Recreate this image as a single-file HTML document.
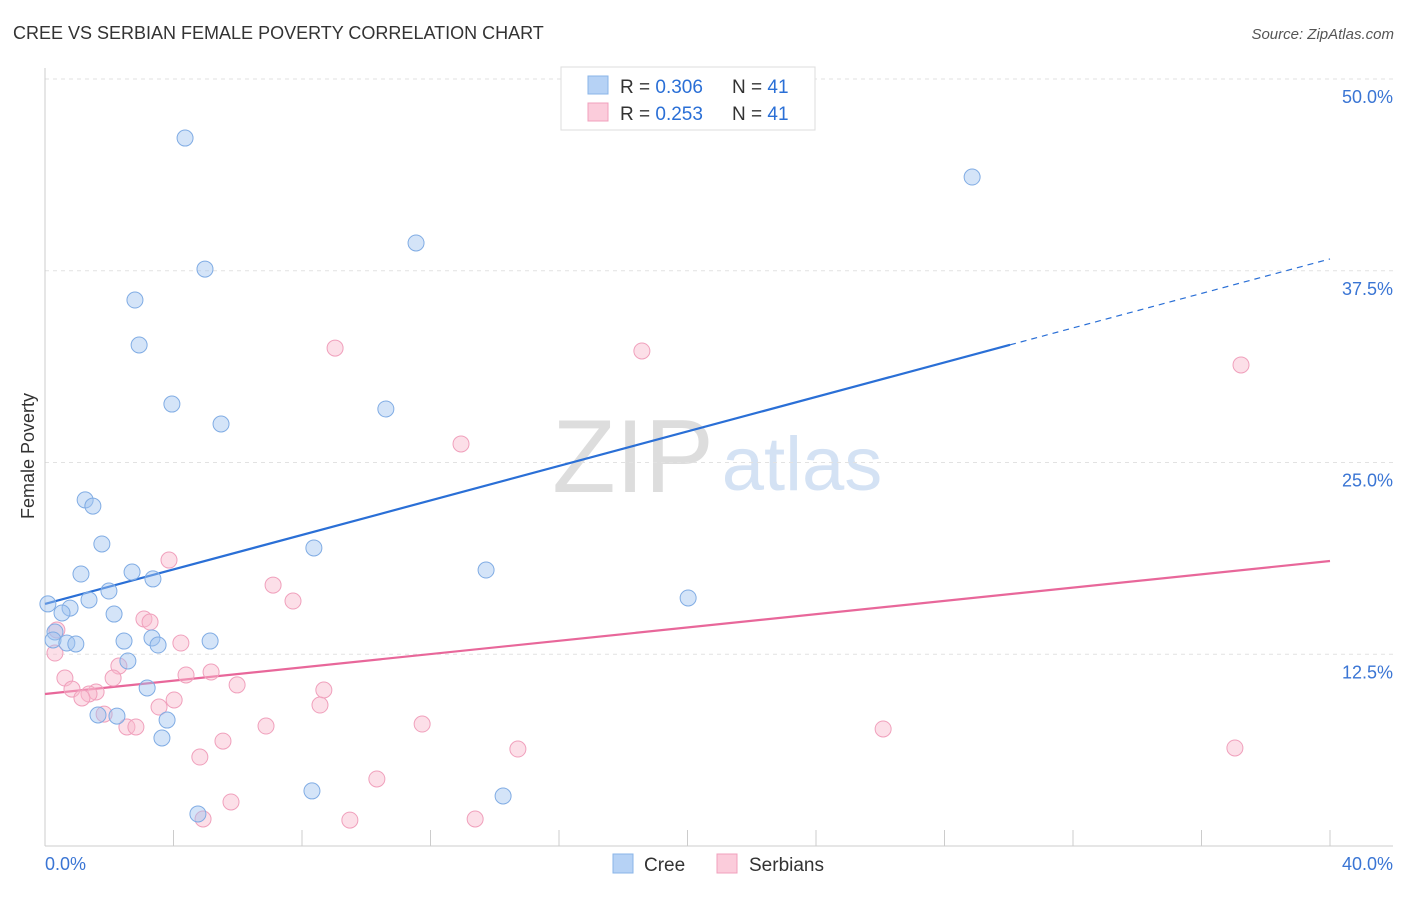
<!DOCTYPE html>
<html><head><meta charset="utf-8"><style>
body{margin:0;background:#fff;font-family:"Liberation Sans",sans-serif;}
svg text{font-family:"Liberation Sans",sans-serif;}
</style></head><body>
<svg id="c" width="1406" height="892">
<text x="13" y="39" font-size="18" fill="#333">CREE VS SERBIAN FEMALE POVERTY CORRELATION CHART</text>
<text x="1394" y="39" font-size="15" fill="#555" font-style="italic" text-anchor="end">Source: ZipAtlas.com</text>
<g>
<text x="633" y="492" font-size="104" fill="#ddd" font-family="Liberation Serif,serif" text-anchor="middle">ZIP</text>
<text x="802" y="490" font-size="76" fill="#d4e2f4" text-anchor="middle">atlas</text></g>
<g id="grid"></g><g id="axes"></g><g id="lines"></g><g id="pts"></g>
<text transform="translate(34,456) rotate(-90)" font-size="18" fill="#333" text-anchor="middle">Female Poverty</text>
<g>
<rect x="561" y="67" width="254" height="63" fill="#fff" stroke="#ddd"/>
<rect x="588" y="76" width="20" height="18" fill="#b6d2f5" stroke="#8ab4e8"/>
<rect x="588" y="103" width="20" height="18" fill="#fbccdb" stroke="#f0a0bc"/>
<text x="620" y="93" font-size="19" fill="#333">R = <tspan fill="#2a6fd6">0.306</tspan></text>
<text x="732" y="93" font-size="19" fill="#333">N = <tspan fill="#2a6fd6">41</tspan></text>
<text x="620" y="120" font-size="19" fill="#333">R = <tspan fill="#2a6fd6"> 0.253</tspan></text>
<text x="732" y="120" font-size="19" fill="#333">N = <tspan fill="#2a6fd6">41</tspan></text></g>
<g>
<rect x="613" y="854" width="20" height="19" fill="#b6d2f5" stroke="#8ab4e8"/>
<text x="644" y="871" font-size="19" fill="#333">Cree</text>
<rect x="717" y="854" width="20" height="19" fill="#fbccdb" stroke="#f0a0bc"/>
<text x="749" y="871" font-size="19" fill="#333">Serbians</text></g>
</svg>
<script>
const creeX=[4.36,4.98,2.80,2.93,3.95,5.48,11.55,10.61,28.86,1.25,1.49,1.77,1.12,2.71,3.36,1.99,1.37,0.09,0.78,0.53,2.15,0.31,0.25,0.68,0.96,2.46,3.33,3.52,5.14,2.58,3.18,1.65,2.24,3.80,3.64,8.37,13.73,20.02,8.31,14.26,4.76];
const creeY=[46.15,37.61,35.59,32.66,28.81,27.51,39.31,28.49,43.61,22.56,22.16,19.69,17.73,17.86,17.41,16.62,16.04,15.78,15.51,15.19,15.12,13.95,13.43,13.23,13.17,13.36,13.56,13.10,13.36,12.06,10.30,8.54,8.47,8.21,7.04,19.43,17.99,16.17,3.59,3.26,2.09];
const serbX=[9.03,18.58,37.23,12.95,3.86,7.10,7.72,3.08,3.27,4.23,0.37,0.31,2.30,4.39,5.17,0.62,2.12,5.98,0.84,1.59,1.37,1.15,4.02,8.68,8.56,3.55,1.84,6.88,11.74,2.55,2.83,26.09,5.54,14.72,37.04,4.82,10.33,5.79,4.92,9.49,13.39];
const serbY=[32.46,32.27,31.36,26.21,18.64,17.01,15.97,14.80,14.60,13.23,14.08,12.58,11.73,11.15,11.34,10.95,10.95,10.50,10.23,10.04,9.91,9.65,9.52,10.17,9.19,9.06,8.60,7.82,7.95,7.76,7.76,7.63,6.84,6.32,6.39,5.80,4.37,2.87,1.76,1.69,1.76];
const creeTrend=[15.78,38.27];
const serbTrend=[9.91,18.58];
const creeSolidEnd=30.04;
const yTicks=[12.5,25,37.5,50];
const yTickLabels=["12.5%","25.0%","37.5%","50.0%"];
const xTicks=[0,4,8,12,16,20,24,28,32,36,40];
const NS="http://www.w3.org/2000/svg";
const sx=v=>45+v*32.125, sy=v=>846-v*15.34;
function mk(t,a,p){const e=document.createElementNS(NS,t);for(const k in a)e.setAttribute(k,a[k]);p.appendChild(e);return e;}
const g=document.getElementById('grid'),ax=document.getElementById('axes'),ln=document.getElementById('lines'),pt=document.getElementById('pts');
yTicks.forEach((v,i)=>{
 const l=mk('line',{x1:45,x2:1393,y1:sy(v),y2:sy(v),stroke:'#e2e2e2','stroke-dasharray':'4,4'},g);
 
 
 const t=mk('text',{x:1393,y:sy(v)+24,'font-size':18,fill:'#3a75d4','text-anchor':'end'},ax);
 t.textContent=yTickLabels[i];
 
 
});
mk('line',{x1:45,x2:1393,y1:846,y2:846,stroke:'#ccc'},ax);
mk('line',{x1:45,x2:45,y1:68,y2:846,stroke:'#ccc'},ax);
xTicks.forEach(v=>{const l=mk('line',{x1:sx(v),x2:sx(v),y1:830,y2:846,stroke:'#ccc'},ax);
 
 });
let t0=mk('text',{x:45,y:870,'font-size':18,fill:'#3a75d4'},ax);t0.textContent='0.0%';


let t1=mk('text',{x:1393,y:870,'font-size':18,fill:'#3a75d4','text-anchor':'end'},ax);t1.textContent='40.0%';


function drawPts(X,Y,fill,stroke,name){X.forEach((x,i)=>{const c=mk('circle',{cx:sx(x),cy:sy(Y[i]),r:8,fill:fill,stroke:stroke,'stroke-width':1},pt);
 
 });}
drawPts(serbX,serbY,'rgba(248,185,205,0.45)','#f0a0bc','serbian-point');
drawPts(creeX,creeY,'rgba(160,195,240,0.45)','#80acE4','cree-point');
const cy=x=>creeTrend[0]+(creeTrend[1]-creeTrend[0])*x/40;
const l1=mk('line',{x1:sx(0),y1:sy(cy(0)),x2:sx(creeSolidEnd),y2:sy(cy(creeSolidEnd)),stroke:'#2a6fd6','stroke-width':2.2},ln);


const l2=mk('line',{x1:sx(creeSolidEnd),y1:sy(cy(creeSolidEnd)),x2:sx(40),y2:sy(cy(40)),stroke:'#2a6fd6','stroke-width':1.2,'stroke-dasharray':'6,5'},ln);


const l3=mk('line',{x1:sx(0),y1:sy(serbTrend[0]),x2:sx(40),y2:sy(serbTrend[1]),stroke:'#e8679a','stroke-width':2.2},ln);


</script>
</body></html>
